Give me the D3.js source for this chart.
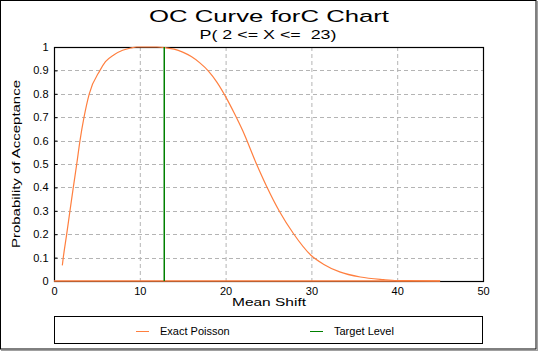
<!DOCTYPE html>
<html><head><meta charset="utf-8">
<script src="https://cdn.jsdelivr.net/npm/d3@7"></script>
<style>
html,body{margin:0;padding:0;background:#fff;}
svg{display:block;font-family:"Liberation Sans",Arial,sans-serif;}
text{white-space:pre;}
</style></head>
<body>
<svg id="c" width="538" height="352"></svg>
<script>
// ---- data ----
const meanShift = [0.97, 1.08, 1.48, 1.86, 2.25, 2.65, 3.03, 3.5, 4.11, 5.36, 6, 7, 8, 9, 9.6, 10, 11, 12, 13, 14, 15, 16, 17, 18, 19, 20, 21, 22, 23.6, 24.8, 26.3, 27.9, 29.95, 31.4, 33.3, 35.7, 38.4, 40, 42, 45];
const probAccept = [0.067, 0.1, 0.2, 0.3, 0.4, 0.5, 0.6, 0.7, 0.8, 0.9, 0.937, 0.967, 0.986, 0.996, 1.0, 1.0, 1.0, 1.0, 0.997, 0.991, 0.978, 0.959, 0.932, 0.897, 0.849, 0.788, 0.718, 0.642, 0.5, 0.403, 0.296, 0.203, 0.11, 0.072, 0.039, 0.017, 0.006, 0.002, 0.001, 0];
const baseShift = [0, 45];
const baseProb = [0, 0];
const targetShift = [12.85, 12.85];
const targetProb = [0, 1];
const xTicks = [0, 10, 20, 30, 40, 50];
const yTicks = [0, 0.1, 0.2, 0.3, 0.4, 0.5, 0.6, 0.7, 0.8, 0.9, 1];
const titleText = "OC Curve forC Chart";
const subtitleText = "P( 2 <= X <=  23)";
const xTitle = "Mean Shift";
const yTitle = "Probability of Acceptance";
const legendLabels = ["Exact Poisson", "Target Level"];
const colors = ["#ff7f3f", "#008000"];

const svg = d3.select("#c");
const x = d3.scaleLinear().domain([0, 50]).range([54, 483]);
const y = d3.scaleLinear().domain([0, 1]).range([281, 47]);

// outer frame
svg.append("rect").attr("x", 0.5).attr("y", 0.5).attr("width", 535.5).attr("height", 348.5)
  .attr("fill", "none").attr("stroke", "#000");
svg.append("line").attr("x1", 1).attr("x2", 538).attr("y1", 350.5).attr("y2", 350.5).attr("stroke", "#a0a0a0");
svg.append("line").attr("x1", 537.5).attr("x2", 537.5).attr("y1", 1).attr("y2", 351).attr("stroke", "#a0a0a0");

// titles
svg.append("text").attr("x", 269).attr("y", 22).attr("text-anchor", "middle")
  .attr("font-size", 17).attr("textLength", 240).attr("lengthAdjust", "spacingAndGlyphs").text(titleText);
svg.append("text").attr("x", 268).attr("y", 39).attr("text-anchor", "middle").attr("xml:space", "preserve")
  .attr("font-size", 12).attr("textLength", 137).attr("lengthAdjust", "spacingAndGlyphs").text(subtitleText);

// grid
const gx = [10, 20, 30, 40];
svg.append("g").selectAll("line").data(gx).join("line")
  .attr("x1", d => x(d) + 0.5).attr("x2", d => x(d) + 0.5).attr("y1", y(1)).attr("y2", y(0))
  .attr("stroke", "#b4b4b4").attr("stroke-dasharray", "4,3");
svg.append("g").selectAll("line").data(yTicks.filter(d => d > 0 && d < 1)).join("line")
  .attr("x1", x(0)).attr("x2", x(50)).attr("y1", d => Math.round(y(d)) + 0.5).attr("y2", d => Math.round(y(d)) + 0.5)
  .attr("stroke", "#b4b4b4").attr("stroke-dasharray", "4,3");

// plot border
svg.append("rect").attr("x", x(0) + 0.5).attr("y", y(1) + 0.5).attr("width", x(50) - x(0)).attr("height", y(0) - y(1))
  .attr("fill", "none").attr("stroke", "#000").attr("stroke-width", 1.2);

// axes
const yAxis = d3.axisLeft(y).tickValues(yTicks).tickSize(-3).tickPadding(6).tickFormat(d => d === 0 ? "0" : d === 1 ? "1" : d3.format(".1f")(d));
const ya = svg.append("g").attr("transform", `translate(${x(0) + 0.5},0)`).call(yAxis);
ya.select(".domain").remove();
ya.selectAll("text").attr("font-size", 11).attr("font-family", "Liberation Sans, Arial, sans-serif").attr("fill", "#000");
ya.selectAll("line").attr("stroke", "#000");

const xAxis = d3.axisBottom(x).tickValues(xTicks).tickSize(0).tickPadding(6).tickFormat(d3.format("d"));
const xa = svg.append("g").attr("transform", `translate(0,${y(0) + 0.5})`).call(xAxis);
xa.select(".domain").remove();
xa.selectAll("text").attr("font-size", 11).attr("font-family", "Liberation Sans, Arial, sans-serif").attr("fill", "#000");

// axis titles
svg.append("text").attr("x", 269).attr("y", 306).attr("text-anchor", "middle")
  .attr("font-size", 11).attr("textLength", 74).attr("lengthAdjust", "spacingAndGlyphs").text(xTitle);
svg.append("text").attr("transform", "translate(20,164) rotate(-90)").attr("text-anchor", "middle")
  .attr("font-size", 11).attr("textLength", 168).attr("lengthAdjust", "spacingAndGlyphs").text(yTitle);

// series
const line = d3.line().x(d => x(d[0])).y(d => y(d[1]));
svg.append("path").datum(baseShift.map((d, i) => [d, baseProb[i]]))
  .attr("d", line).attr("fill", "none").attr("stroke", colors[0]).attr("stroke-width", 1.5);
svg.append("path").datum(meanShift.map((d, i) => [d, probAccept[i]]))
  .attr("d", d3.line().x(d => x(d[0])).y(d => y(d[1])).curve(d3.curveMonotoneX)).attr("fill", "none").attr("stroke", colors[0]).attr("stroke-width", 1.2);
svg.append("path").datum(targetShift.map((d, i) => [d, targetProb[i]]))
  .attr("d", line).attr("fill", "none").attr("stroke", colors[1]).attr("stroke-width", 1.5);

// legend
svg.append("rect").attr("x", 54.5).attr("y", 316.5).attr("width", 428).attr("height", 27)
  .attr("fill", "none").attr("stroke", "#000");
const lx = [136, 310];
legendLabels.forEach((lab, i) => {
  svg.append("line").attr("x1", lx[i]).attr("x2", lx[i] + 13).attr("y1", 331.5).attr("y2", 331.5)
    .attr("stroke", colors[i]).attr("stroke-width", 1);
  svg.append("text").attr("x", lx[i] + 24).attr("y", 335).attr("font-size", 11).text(lab);
});
</script>
</body></html>
